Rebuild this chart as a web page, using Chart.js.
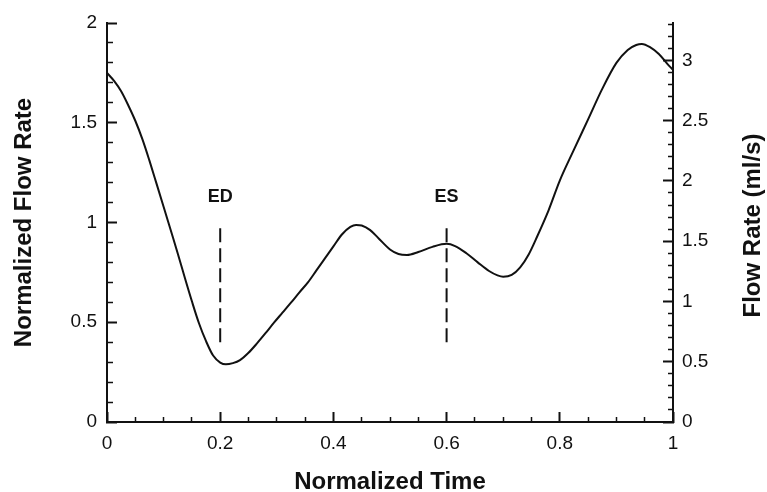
<!DOCTYPE html>
<html>
<head>
<meta charset="utf-8">
<script src="https://cdn.jsdelivr.net/npm/chart.js@4"></script>
<style>
  html, body { margin: 0; padding: 0; background: #ffffff; }
  #wrap { width: 767px; height: 492px; position: relative; }
</style>
</head>
<body>
<div id="wrap"><canvas id="chart" width="767" height="492"></canvas></div>
<script>
// ---- Data ----
const timeValues = [0.00, 0.0125, 0.025, 0.0375, 0.05, 0.0625, 0.075, 0.0875, 0.10, 0.1125, 0.125, 0.1375, 0.15, 0.1625, 0.175, 0.1875, 0.20, 0.21, 0.2225, 0.235, 0.25, 0.265, 0.28, 0.295, 0.31, 0.325, 0.34, 0.355, 0.37, 0.385, 0.40, 0.415, 0.43, 0.44, 0.45, 0.465, 0.48, 0.50, 0.515, 0.53, 0.55, 0.575, 0.60, 0.615, 0.635, 0.655, 0.675, 0.69, 0.70, 0.715, 0.73, 0.745, 0.76, 0.78, 0.80, 0.825, 0.85, 0.875, 0.90, 0.92, 0.935, 0.945, 0.96, 0.975, 0.99, 1.00];
const flowValues = [1.75, 1.71, 1.658, 1.588, 1.51, 1.418, 1.31, 1.195, 1.079, 0.962, 0.845, 0.723, 0.605, 0.495, 0.405, 0.333, 0.298, 0.289, 0.295, 0.31, 0.347, 0.394, 0.445, 0.498, 0.548, 0.598, 0.65, 0.70, 0.76, 0.82, 0.88, 0.94, 0.978, 0.988, 0.985, 0.962, 0.92, 0.865, 0.842, 0.837, 0.852, 0.878, 0.893, 0.882, 0.846, 0.80, 0.757, 0.735, 0.728, 0.737, 0.775, 0.84, 0.93, 1.06, 1.21, 1.365, 1.517, 1.67, 1.80, 1.865, 1.89, 1.895, 1.878, 1.845, 1.795, 1.765];

const markerTimes = [0.2, 0.6];
const markerLabels = ['ED', 'ES'];
const markerLow = [0.4, 0.4];
const markerHigh = [1.0, 1.0];
const markerLabelLevel = [1.13, 1.13];

const xMajorTicks = [0, 0.2, 0.4, 0.6, 0.8, 1];
const xTickLabels = ['0', '0.2', '0.4', '0.6', '0.8', '1'];
const leftMajorTicks = [0, 0.5, 1, 1.5, 2];
const leftTickLabels = ['0', '0.5', '1', '1.5', '2'];
const rightMajorTicks = [0, 0.5, 1, 1.5, 2, 2.5, 3];
const rightTickLabels = ['0', '0.5', '1', '1.5', '2', '2.5', '3'];

const flowRateMax = 3.31; // ml/s corresponding to normalized 2

const xTitle = 'Normalized Time';
const leftTitle = 'Normalized Flow Rate';
const rightTitle = 'Flow Rate (ml/s)';

// ---- helpers ----
const FONT = "'Liberation Sans', Arial, Helvetica, sans-serif";
Chart.defaults.font.family = FONT;
Chart.defaults.color = '#111';

function findMajor(list, v) {
  for (let i = 0; i < list.length; i++) {
    if (Math.abs(list[i] - v) < 1e-6) return i;
  }
  return -1;
}

const curvePoints = timeValues.map((t, i) => ({ x: t, y: flowValues[i] }));
const markerSets = markerTimes.map((t, i) => ({
  label: markerLabels[i],
  data: [{ x: t, y: markerLow[i] }, { x: t, y: markerHigh[i] }],
  borderColor: '#111',
  borderWidth: 2,
  borderDash: [14, 6],
  pointRadius: 0,
  showLine: true,
  fill: false,
  yAxisID: 'y'
}));

const annotPlugin = {
  id: 'annot',
  afterDatasetsDraw(chart) {
    const { ctx } = chart;
    const xs = chart.scales.x, ys = chart.scales.y, yr = chart.scales.y2;
    ctx.save();
    ctx.fillStyle = '#111';
    ctx.font = "bold 18px " + FONT;
    ctx.textAlign = 'center';
    ctx.textBaseline = 'middle';
    markerTimes.forEach((t, i) => {
      ctx.fillText(markerLabels[i], xs.getPixelForValue(t), ys.getPixelForValue(markerLabelLevel[i]));
    });
    // right axis title, reading bottom-to-top
    ctx.font = "bold 24px " + FONT;
    const cx = 753;
    const cy = (yr.top + yr.bottom) / 2 + 3;
    ctx.translate(cx, cy);
    ctx.rotate(-Math.PI / 2);
    ctx.fillText(rightTitle, 0, 0);
    ctx.restore();
  }
};

function tickDash(list, startsAtBorder) {
  return (c) => {
    if (!c.tick) return [];
    if (findMajor(list, c.tick.value) >= 0) return [];
    return startsAtBorder ? [6, 100] : [0, 4, 6, 100];
  };
}
function tickW(list) {
  return (c) => (c.tick && findMajor(list, c.tick.value) >= 0) ? 2 : 1.5;
}
function noPad(s) {
  s.paddingTop = 0; s.paddingBottom = 0; s.paddingLeft = 0; s.paddingRight = 0;
}

new Chart(document.getElementById('chart'), {
  type: 'scatter',
  data: {
    datasets: [{
      label: 'Flow',
      data: curvePoints,
      borderColor: '#111',
      borderWidth: 2,
      pointRadius: 0,
      pointHoverRadius: 0,
      showLine: true,
      fill: false,
      cubicInterpolationMode: 'monotone',
      yAxisID: 'y'
    }].concat(markerSets)
  },
  options: {
    responsive: false,
    animation: false,
    devicePixelRatio: 1,
    layout: { padding: { top: 23, left: 0, right: 0, bottom: 0 } },
    plugins: { legend: { display: false }, tooltip: { enabled: false } },
    scales: {
      x: {
        type: 'linear',
        position: 'bottom',
        min: 0, max: 1,
        afterFit(s) { s.height = 70; noPad(s); },
        border: { display: true, color: '#111', width: 2 },
        grid: {
          drawOnChartArea: false,
          drawTicks: true,
          tickLength: -10,
          color: '#111',
          tickWidth: tickW(xMajorTicks),
          tickBorderDash: tickDash(xMajorTicks, true)
        },
        ticks: {
          stepSize: 0.05,
          autoSkip: false,
          maxRotation: 0,
          includeBounds: false,
          maxTicksLimit: 200,
          padding: 20,
          color: '#111',
          font: { size: 19 },
          callback(v) { const k = findMajor(xMajorTicks, v); return k >= 0 ? xTickLabels[k] : ''; }
        },
        title: {
          display: true,
          text: xTitle,
          color: '#111',
          font: { size: 24, weight: 'bold' },
          padding: { top: 0, bottom: -5 }
        }
      },
      y: {
        type: 'linear',
        position: 'left',
        min: 0, max: 2,
        afterFit(s) { s.width = 107; noPad(s); },
        border: { display: true, color: '#111', width: 2 },
        grid: {
          drawOnChartArea: false,
          drawTicks: true,
          tickLength: -10,
          color: '#111',
          tickWidth: tickW(leftMajorTicks),
          tickBorderDash: tickDash(leftMajorTicks, false)
        },
        ticks: {
          stepSize: 0.1,
          autoSkip: false,
          includeBounds: false,
          maxTicksLimit: 200,
          padding: 20,
          color: '#111',
          font: { size: 19 },
          callback(v) { const k = findMajor(leftMajorTicks, v); return k >= 0 ? leftTickLabels[k] : ''; }
        },
        title: {
          display: true,
          text: leftTitle,
          color: '#111',
          font: { size: 24, weight: 'bold' },
          padding: { top: 10, bottom: 0 }
        }
      },
      y2: {
        type: 'linear',
        position: 'right',
        min: 0, max: flowRateMax,
        afterFit(s) { s.width = 94; noPad(s); },
        border: { display: true, color: '#111', width: 2 },
        grid: {
          drawOnChartArea: false,
          drawTicks: true,
          tickLength: -10,
          color: '#111',
          tickWidth: tickW(rightMajorTicks),
          tickBorderDash: tickDash(rightMajorTicks, true)
        },
        ticks: {
          stepSize: 0.1,
          autoSkip: false,
          includeBounds: false,
          maxTicksLimit: 200,
          padding: 19,
          color: '#111',
          font: { size: 19 },
          callback(v) { const k = findMajor(rightMajorTicks, v); return k >= 0 ? rightTickLabels[k] : ''; }
        }
      }
    }
  },
  plugins: [annotPlugin]
});
</script>
</body>
</html>
